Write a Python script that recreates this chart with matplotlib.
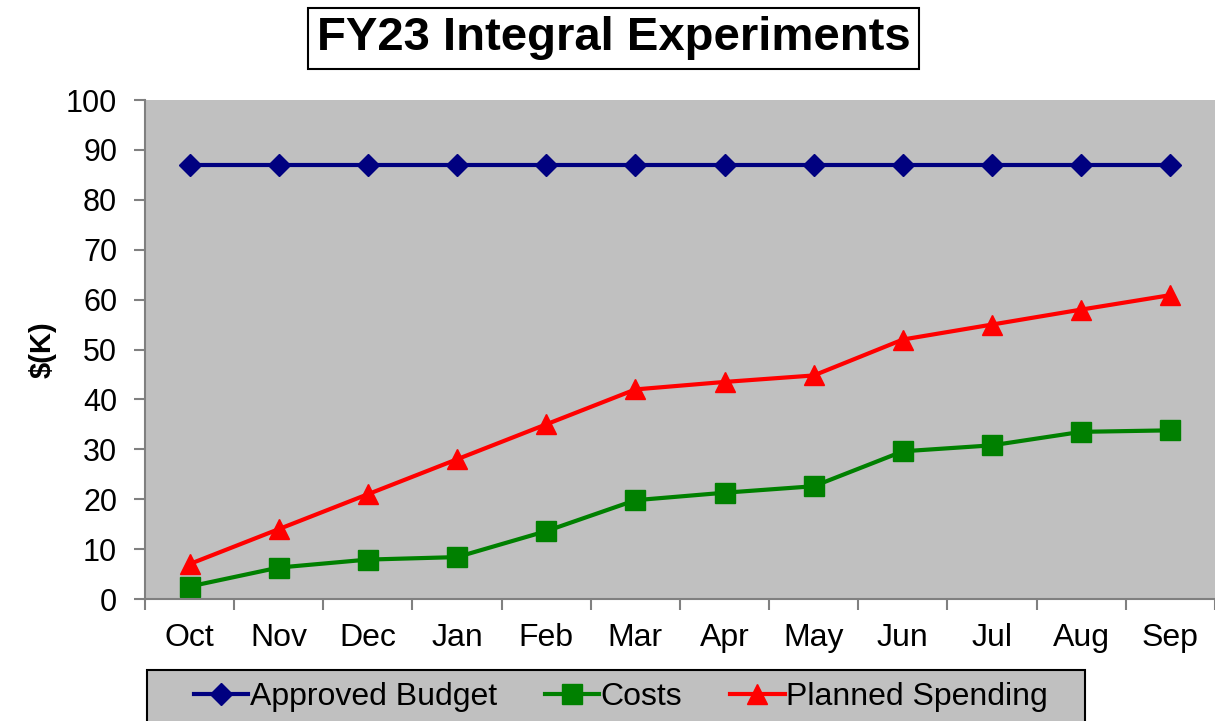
import numpy as np
import matplotlib.pyplot as plt
from matplotlib.patches import Rectangle

plt.rcParams['font.family'] = ['Liberation Sans', 'DejaVu Sans']

months = ['Oct', 'Nov', 'Dec', 'Jan', 'Feb', 'Mar', 'Apr', 'May', 'Jun', 'Jul', 'Aug', 'Sep']
approved_budget = [87, 87, 87, 87, 87, 87, 87, 87, 87, 87, 87, 87]
costs = [2.5, 6.3, 7.9, 8.4, 13.6, 19.8, 21.3, 22.6, 29.6, 30.8, 33.5, 33.8]
planned_spending = [7, 14, 21, 28, 35, 42, 43.5, 44.8, 52, 55, 58, 60.9]

x = np.arange(len(months))

fig = plt.figure(figsize=(12.15, 7.21), dpi=100)
ax = fig.add_axes([0.1193, 0.1692, 0.8807, 0.6921])
ax.set_facecolor('#c0c0c0')

ax.plot(x, approved_budget, color='#000080', lw=3, marker='D', ms=11, label='Approved Budget')
ax.plot(x, costs, color='#008000', lw=3, marker='s', ms=14, label='Costs')
ax.plot(x, planned_spending, color='#ff0000', lw=3, marker='^', ms=15, label='Planned Spending')

ax.set_xlim(-0.5, len(months) - 0.5)
ax.set_ylim(0, 100)
ax.set_yticks(range(0, 101, 10))
ax.set_xticks(x)
ax.set_xticklabels(months)
ax.set_xticks(np.arange(-0.5, len(months)), minor=True)
ax.tick_params(axis='x', which='major', length=0, pad=17, labelsize=23)
ax.tick_params(axis='x', which='minor', length=8, width=1.5, color='#808080')
ax.tick_params(axis='y', length=8, width=1.5, color='#808080', labelsize=22, pad=12)

for s in ['top', 'right']:
    ax.spines[s].set_visible(False)
for s in ['left', 'bottom']:
    ax.spines[s].set_color('#808080')
    ax.spines[s].set_linewidth(1.5)

ax.set_ylabel('$(K)', fontsize=21, fontweight='bold', labelpad=7)

fig.text(0.505, 0.947, 'FY23 Integral Experiments', ha='center', va='center',
         fontsize=34, fontweight='bold',
         bbox=dict(facecolor='white', edgecolor='black', linewidth=1.5, boxstyle='square,pad=0.18'))

# legend box (runs off the bottom edge like the original)
fig.patches.append(Rectangle((0.121, -0.05), 0.772, 0.1207, transform=fig.transFigure,
                             facecolor='#c0c0c0', edgecolor='black', lw=1.5))
fig.legend(loc='center', bbox_to_anchor=(0.511, 0.0333), ncol=3, fontsize=23,
           frameon=False, handlelength=1.7, handletextpad=0.05, columnspacing=1.5,
           borderaxespad=0)

fig.savefig('out.png', dpi=100)
